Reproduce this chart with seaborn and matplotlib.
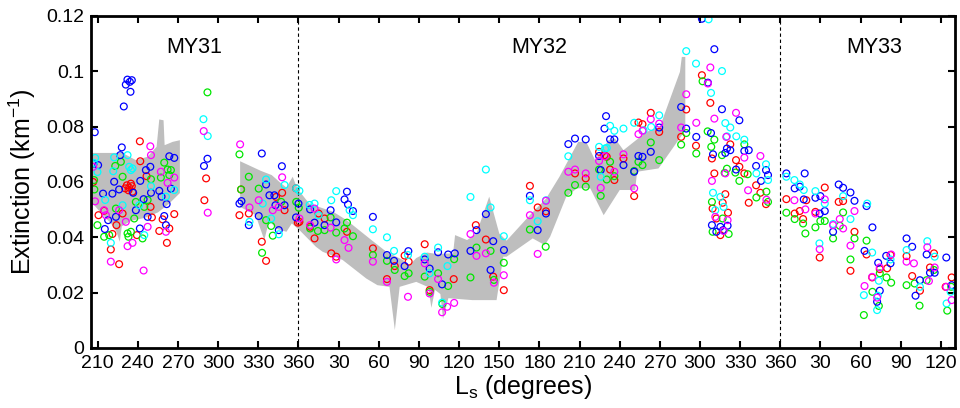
import matplotlib
matplotlib.use("Agg")
import matplotlib.pyplot as plt
import numpy as np
import pandas as pd
import seaborn as sns

# x values are cumulative Ls: MY31 as is, MY32 = Ls + 360, MY33 = Ls + 720
red_pts = [
    (206.6, 0.060), (210.6, 0.048), (214.8, 0.0496), (219.8, 0.0356), (221, 0.0412), (224, 0.0444),
    (226, 0.0303), (228.6, 0.0486), (230.5, 0.0577), (231.8, 0.0588), (233, 0.057), (233.5, 0.058),
    (234.8, 0.0594), (235.5, 0.0585), (236, 0.0565), (239.3, 0.0408), (241.5, 0.0747), (241.8, 0.0675),
    (246.5, 0.0621), (249.5, 0.051), (250.5, 0.0472), (256, 0.0423), (258.5, 0.0465), (261.7, 0.038),
    (263.5, 0.0432), (267.2, 0.0484), (289.7, 0.0534), (291, 0.0613),
    (315.9, 0.048), (317.1, 0.0573), (322.9, 0.0486), (332.6, 0.0384), (335.8, 0.0315), (343.3, 0.0546),
    (347.8, 0.0561), (349.6, 0.0498), (358.2, 0.0577), (359.5, 0.0453),
    (360.7, 0.0456), (368.7, 0.0438), (372, 0.0396), (375, 0.0486), (379.5, 0.0468), (384.5, 0.0342),
    (388.2, 0.033), (396.2, 0.042), (415.6, 0.036), (426.1, 0.0249), (431.9, 0.0296), (439.3, 0.0334),
    (442.3, 0.0312), (454.3, 0.0375), (458, 0.0209), (476, 0.0249), (492.5, 0.0444), (500, 0.0392),
    (505.5, 0.0258), (513.4, 0.0209), (532.9, 0.0586), (538.7, 0.0508), (544.9, 0.0494), (566.6, 0.0631),
    (574.6, 0.0613), (584.6, 0.0709), (588.6, 0.0697), (590.3, 0.0691), (592.8, 0.0645), (596, 0.0607),
    (602.8, 0.0685), (610.8, 0.0549), (614, 0.0815), (617, 0.0809), (623.2, 0.085), (629.5, 0.0781),
    (645.9, 0.0763), (649.7, 0.0862), (657, 0.0731), (661.4, 0.0986), (667.7, 0.0886), (668.9, 0.0685),
    (669.4, 0.0504), (670.7, 0.0631), (672.2, 0.0468), (675.2, 0.0408), (676.9, 0.0525), (678.9, 0.0556),
    (680.9, 0.0489), (682.6, 0.0736), (686.9, 0.0679), (689.4, 0.0655), (693.1, 0.0631), (696.4, 0.0525),
    (701.9, 0.0588), (705.1, 0.0561), (709.3, 0.052),
    (724.5, 0.0538), (730.7, 0.0486), (734.5, 0.0495), (737, 0.0466), (739.4, 0.0534), (746.2, 0.0492),
    (749.4, 0.0327), (753.2, 0.058), (763.6, 0.0528), (766.9, 0.0531), (772.4, 0.0279), (775.4, 0.042),
    (784.4, 0.0338), (788.6, 0.0255), (794.3, 0.0285), (799.8, 0.0288), (802.3, 0.0336), (814.3, 0.0332),
    (818.5, 0.026), (824.3, 0.0207), (831.8, 0.0291), (834.8, 0.0342), (843.5, 0.0221), (848, 0.0255),
]

green_pts = [
    (207.3, 0.0607), (207.5, 0.0573), (209.8, 0.0444), (214.8, 0.0402), (218.6, 0.0408), (223.1, 0.0658),
    (223.6, 0.0504), (227.3, 0.0673), (228.6, 0.0619), (232.3, 0.0414), (233, 0.0402), (234.8, 0.042),
    (237.3, 0.0468), (238.5, 0.0528), (243.5, 0.0396), (244.8, 0.051), (247.3, 0.0535), (249.8, 0.061),
    (257.2, 0.0616), (259.7, 0.067), (262.2, 0.0645), (263.5, 0.0625), (264.7, 0.0643), (292, 0.0924),
    (315.9, 0.07), (317.1, 0.0573), (322.9, 0.0619), (330.3, 0.0576), (332.8, 0.0344), (335.8, 0.0462),
    (339.6, 0.0441), (340.8, 0.0406), (347.1, 0.0528), (358.3, 0.0528),
    (360.2, 0.0507), (368.7, 0.0432), (374.5, 0.0423), (379.5, 0.0426), (384, 0.0472), (388.2, 0.0417),
    (394.4, 0.0432), (396.2, 0.0453), (400.7, 0.0404), (415.6, 0.0336), (426.1, 0.0315), (431.9, 0.0282),
    (439.3, 0.026), (442.3, 0.027), (454.3, 0.0258), (458, 0.0203), (464.3, 0.027), (467.5, 0.0159),
    (471.8, 0.0224), (476.3, 0.0321), (488.5, 0.0255), (493, 0.0363), (503.5, 0.0351), (506, 0.0246),
    (513.4, 0.0308), (532.9, 0.0428), (544.7, 0.0366), (561.6, 0.0561), (566.6, 0.0589), (574.6, 0.0583),
    (584.6, 0.0645), (585.8, 0.055), (590.3, 0.0609), (592.8, 0.0673), (596, 0.0621), (610.8, 0.064),
    (614, 0.0673), (617, 0.0661), (623.2, 0.0743), (629.5, 0.0679), (645.9, 0.0735), (649.7, 0.0777),
    (657.2, 0.0703), (661.9, 0.0964), (665.7, 0.0783), (668.4, 0.0727), (668.9, 0.0528), (669.4, 0.042),
    (670.7, 0.0753), (676.4, 0.0697), (676.9, 0.0468), (678.4, 0.0633), (680.1, 0.0648), (681.4, 0.0412),
    (686.4, 0.0634), (689.4, 0.0604), (693.1, 0.0736), (695.6, 0.0628), (702.1, 0.0544), (709.6, 0.0565),
    (710.8, 0.0528),
    (724.5, 0.0489), (730.7, 0.0466), (737, 0.045), (738.7, 0.0414), (746.2, 0.0436), (749.9, 0.0459),
    (753.2, 0.0459), (759.4, 0.0396), (764.4, 0.0442), (766.9, 0.049), (772.4, 0.032), (775.4, 0.0396),
    (782.4, 0.0119), (784.4, 0.0388), (788.8, 0.0203), (793.6, 0.0152), (794.3, 0.027), (799.3, 0.0255),
    (802.8, 0.0236), (814.3, 0.0227), (820.3, 0.0233), (824, 0.0153), (829.3, 0.0245), (834.8, 0.0282),
    (844.7, 0.0135), (847.7, 0.0221),
]

blue_pts = [
    (207.8, 0.078), (207, 0.0667), (210.3, 0.0661), (214, 0.0558), (215.3, 0.043), (217.8, 0.0462),
    (221, 0.0558), (222.3, 0.0601), (223.6, 0.0474), (226, 0.0573), (226.8, 0.0697), (228, 0.0725),
    (229.5, 0.0873), (231, 0.0952), (232.2, 0.097), (234, 0.0962), (234.5, 0.0926), (235.5, 0.0968),
    (236.5, 0.0561), (238.5, 0.0498), (241.5, 0.0432), (241.8, 0.0604), (244.3, 0.0538), (246, 0.0643),
    (247.3, 0.0474), (249.3, 0.0655), (249.8, 0.0561), (256, 0.0568), (257.7, 0.0547), (259.7, 0.0477),
    (261, 0.0444), (261.5, 0.052), (263.5, 0.0693), (264.7, 0.0576), (267.2, 0.0687),
    (289.4, 0.0658), (292, 0.0684),
    (315.9, 0.0522), (317.4, 0.0531), (322.9, 0.0444), (330.3, 0.0477), (332.6, 0.0703), (335.8, 0.0591),
    (338.3, 0.0552), (342, 0.0552), (342.8, 0.0516), (345.3, 0.0426), (347.6, 0.0657), (349.6, 0.0516),
    (358.2, 0.0472), (360, 0.0522),
    (368.7, 0.0501), (372, 0.0453), (379.5, 0.0444), (384, 0.0498), (388.2, 0.0454), (394.4, 0.0537),
    (396.2, 0.0565), (397, 0.0519), (400.7, 0.0495), (415.6, 0.0474), (426.1, 0.0336), (431.4, 0.0315),
    (439.3, 0.0296), (442.1, 0.035), (454.3, 0.032), (458, 0.0287), (464.3, 0.0346), (467.3, 0.023),
    (471.8, 0.0338), (476.8, 0.0342), (488.5, 0.0351), (493, 0.0426), (500, 0.0484), (503.5, 0.0282),
    (505.5, 0.0386), (513.5, 0.0354), (532.9, 0.055), (538.7, 0.0426), (544.9, 0.0486), (561.6, 0.0737),
    (566.6, 0.0757), (574.6, 0.0754), (584.6, 0.0694), (585.8, 0.0643), (588.6, 0.0793), (589.8, 0.0838),
    (592.8, 0.0754), (596, 0.0754), (602.8, 0.0661), (610.8, 0.0637), (614, 0.0694), (617, 0.0691),
    (623.2, 0.0709), (629.5, 0.0797), (645.9, 0.0871), (649.7, 0.0793), (657.2, 0.0763), (661.4, 0.119),
    (665.9, 0.0959), (668.2, 0.0777), (668.9, 0.0444), (669.7, 0.07), (670.7, 0.108), (672.2, 0.042),
    (675.2, 0.0438), (676.4, 0.0863), (677.2, 0.0426), (678.9, 0.0705), (680.1, 0.0721), (680.6, 0.0442),
    (682.6, 0.0715), (686.9, 0.0645), (689.4, 0.0823), (693.1, 0.0712), (696.4, 0.0715), (701.9, 0.0658),
    (705.6, 0.0604), (709.3, 0.0643), (710.8, 0.0625),
    (724.5, 0.0631), (730.7, 0.0577), (734.5, 0.0583), (737.5, 0.0537), (738.2, 0.0631), (746.2, 0.0543),
    (749.4, 0.0486), (749.9, 0.0549), (753.2, 0.0495), (759.4, 0.042), (763.6, 0.0591), (766.9, 0.0579),
    (772.4, 0.0562), (775.4, 0.0532), (782.9, 0.0351), (784.4, 0.0513), (788.8, 0.0436), (792.3, 0.0167),
    (793.1, 0.0308), (794.3, 0.0207), (799.1, 0.0333), (802.3, 0.0306), (814.3, 0.0396), (818.5, 0.0366),
    (821, 0.0189), (824.3, 0.0245), (829.3, 0.0338), (831.8, 0.0272), (835.3, 0.0272), (844, 0.0327),
    (848, 0.0227),
]

cyan_pts = [
    (207.1, 0.0669), (208.1, 0.0687), (209.8, 0.0636), (215.6, 0.0535), (219.8, 0.038), (221.6, 0.0639),
    (222.3, 0.0689), (228.6, 0.0516), (232.3, 0.0697), (233.5, 0.0655), (234.8, 0.0643), (236, 0.0649),
    (241, 0.0516), (244.8, 0.0408), (249.8, 0.0585), (261, 0.0547), (267.2, 0.0571),
    (289, 0.0827), (292.2, 0.0766),
    (323.4, 0.0456), (333.3, 0.0522), (335.8, 0.0609), (339.6, 0.0468), (345.3, 0.0411), (349.6, 0.0589),
    (358.3, 0.0577),
    (360.7, 0.0568), (368.3, 0.0517), (372, 0.0522), (375, 0.048), (384.5, 0.0534), (388.2, 0.0567),
    (398.2, 0.0498), (400.7, 0.048), (415.6, 0.0429), (426.1, 0.04), (431.4, 0.0351), (441.8, 0.0336),
    (454.3, 0.033), (458, 0.027), (464.3, 0.0363), (467.3, 0.0164), (471.3, 0.0296), (488.5, 0.0546),
    (500, 0.0645), (503.5, 0.0508), (513.4, 0.0404), (532.9, 0.0534), (538.7, 0.0458), (544.9, 0.0534),
    (561.6, 0.0693), (584.6, 0.0727), (585.8, 0.0619), (589, 0.0721), (590.3, 0.0723), (592.8, 0.0803),
    (596, 0.0785), (602.8, 0.0793), (610.8, 0.0814), (617.8, 0.0787), (623.5, 0.0799), (629.5, 0.0841),
    (649.7, 0.1073), (657, 0.1028), (666.4, 0.1188), (668.2, 0.0922), (669.7, 0.0561), (671.4, 0.0498),
    (675.2, 0.0546), (676.4, 0.1001), (677.6, 0.051), (678.9, 0.0813), (680.1, 0.0765), (682.6, 0.0797),
    (687.1, 0.0765), (693.1, 0.0753), (702.1, 0.0631), (709.3, 0.0664), (710.8, 0.0607),
    (724.5, 0.0619), (730.5, 0.0607), (734.5, 0.0591), (737.5, 0.0571), (746.2, 0.0567), (749.2, 0.0378),
    (753.2, 0.0522), (759.4, 0.0448), (766.9, 0.0549), (772.4, 0.0466), (782.4, 0.0191), (784.9, 0.0522),
    (788.6, 0.0345), (792.3, 0.0137), (792.8, 0.0189), (793.6, 0.0243), (802.3, 0.032), (814.3, 0.0354),
    (824.3, 0.0221), (829.8, 0.0386), (835.3, 0.033), (844.2, 0.0161), (847.2, 0.0203),
]

magenta_pts = [
    (206.6, 0.0655), (208, 0.053), (214.8, 0.0498), (216.1, 0.048), (219.8, 0.0312), (226, 0.0498),
    (231, 0.0456), (232.3, 0.0368), (236, 0.038), (244.3, 0.028), (247.3, 0.0438), (249.3, 0.0729),
    (249.8, 0.0697), (257.2, 0.0637), (261, 0.042), (262.2, 0.0597), (267.2, 0.0616),
    (289.2, 0.0784), (292.2, 0.0489),
    (316.4, 0.0736), (323.4, 0.0508), (330.3, 0.0534), (340.8, 0.0498), (345.3, 0.051), (347.8, 0.0617),
    (360.7, 0.0468), (368.7, 0.0444), (372, 0.0504), (384, 0.0435), (388.2, 0.032), (394.4, 0.039),
    (397.4, 0.0362), (415.6, 0.0312), (426.1, 0.0239), (441.8, 0.0185), (454.3, 0.0306), (458, 0.0197),
    (464.3, 0.0249), (467.3, 0.0129), (471.1, 0.0149), (476.3, 0.0163), (488.5, 0.0412), (493, 0.0333),
    (500, 0.0342), (506, 0.0236), (513.4, 0.0263), (532.9, 0.048), (538.7, 0.034), (544.9, 0.0532),
    (561.6, 0.0637), (566.6, 0.0645), (574.6, 0.0631), (584.6, 0.0676), (585.8, 0.0579), (589, 0.0693),
    (596, 0.0637), (602.8, 0.07), (610.8, 0.0577), (614, 0.0773), (617, 0.0785), (623.2, 0.0827),
    (629.5, 0.0811), (645.9, 0.0797), (649.7, 0.0917), (657.2, 0.0814), (665.9, 0.0956), (667.7, 0.1014),
    (668.9, 0.0604), (670.7, 0.0829), (671.4, 0.0474), (677.6, 0.0423), (678.9, 0.0631), (679.6, 0.0763),
    (680.6, 0.0462), (686.9, 0.085), (693.1, 0.0688), (695.9, 0.057), (705.1, 0.0694), (709.6, 0.0536),
    (730.5, 0.0534), (738.7, 0.0501), (746.2, 0.0486), (749.4, 0.0357), (753.2, 0.0537), (759.4, 0.0444),
    (764.4, 0.0466), (766.9, 0.0432), (772.4, 0.037), (775.4, 0.0495), (782.9, 0.0224), (788.6, 0.0257),
    (792.3, 0.0182), (794.3, 0.0291), (802.8, 0.0338), (814.3, 0.0312), (819.8, 0.0306), (829.8, 0.0364),
    (831, 0.0242), (835.3, 0.0291), (844, 0.0221), (848, 0.0173),
]

# grey envelope, two separate pieces
band1_upper = [(205, 0.0705), (228.5, 0.0705), (238.5, 0.0679), (247.2, 0.0691), (254, 0.0727),
               (256, 0.0826), (259.2, 0.0823), (260, 0.0733), (266, 0.0745), (271.4, 0.0751)]
band1_lower = [(205, 0.053), (212, 0.049), (220, 0.045), (224, 0.042), (226.5, 0.0384), (228, 0.044),
               (235, 0.046), (245, 0.047), (255, 0.049), (263, 0.052), (271.4, 0.056)]
band2_upper = [(316.4, 0.0675), (332, 0.064), (340, 0.0625), (347, 0.0595), (351, 0.058), (355.7, 0.0619),
               (358, 0.059), (360, 0.0571), (368, 0.0522), (386, 0.0492), (396, 0.0462), (413, 0.0396),
               (425.6, 0.0348), (438, 0.0318), (443, 0.030), (448, 0.0325), (456, 0.0345), (463, 0.034),
               (475.5, 0.0342), (477, 0.0408), (486, 0.039), (493, 0.0414), (502.5, 0.0547), (510, 0.0414),
               (515.5, 0.0388), (534, 0.0486), (545, 0.054), (555, 0.0619), (569, 0.0745), (575, 0.0745),
               (581.6, 0.0679), (591.6, 0.0751), (596.5, 0.0757), (602.8, 0.0715), (620, 0.0781),
               (630, 0.0799), (645, 0.0998), (646.4, 0.1052), (649, 0.1052)]
band2_lower = [(316.4, 0.051), (328, 0.048), (334.5, 0.039), (338, 0.046), (344, 0.043), (351, 0.042),
               (355, 0.045), (360.75, 0.0426), (373, 0.0366), (378, 0.0348), (393, 0.0318), (410.7, 0.0251),
               (419, 0.0227), (428, 0.0221), (432, 0.0065), (435.6, 0.0221), (448, 0.0239), (457, 0.022),
               (459.3, 0.0145), (462, 0.021), (466, 0.0195), (468, 0.0105), (472, 0.018), (490, 0.0173),
               (508, 0.0173), (513, 0.033), (515.5, 0.033), (535, 0.0396), (544, 0.0372), (548, 0.0402),
               (560, 0.0546), (568, 0.0577), (578, 0.0577), (588, 0.048), (600, 0.0571), (611.5, 0.0571),
               (613, 0.0637), (629, 0.0649), (649, 0.0787)]

year_bounds = [360, 720]
year_labels = ["MY31", "MY32", "MY33"]
year_label_x = [282, 540, 790]
xtick_vals = list(range(210, 841, 30))
ytick_vals = [0, 0.02, 0.04, 0.06, 0.08, 0.1, 0.12]
ytick_labels = ["0", "0.02", "0.04", "0.06", "0.08", "0.1", "0.12"]

sns.set_style("ticks", {"axes.edgecolor": "black", "text.color": "black",
                        "axes.labelcolor": "black", "xtick.color": "black", "ytick.color": "black"})
plt.rcParams["font.family"] = ["Liberation Sans", "DejaVu Sans"]
plt.rcParams["mathtext.fontset"] = "custom"
plt.rcParams["mathtext.rm"] = "Liberation Sans"
plt.rcParams["mathtext.it"] = "Liberation Sans:italic"

fig = plt.figure(figsize=(9.6, 4.08), dpi=100)
ax = fig.add_axes([0.0948, 0.1471, 0.9, 0.8137])

for up, lo in [(band1_upper, band1_lower), (band2_upper, band2_lower)]:
    poly = up + lo[::-1]
    ax.fill([p[0] for p in poly], [p[1] for p in poly], color="#bebebe", lw=0, zorder=1)

for xb in year_bounds:
    ax.axvline(xb, color="k", lw=0.8, ls=(0, (3, 2.5)), zorder=1.5)

groups = [("red", red_pts, "#ff0000"), ("green", green_pts, "#00e600"), ("blue", blue_pts, "#0000ff"),
          ("cyan", cyan_pts, "#00ffff"), ("magenta", magenta_pts, "#ff00ff")]
for name, pts, col in groups:
    df = pd.DataFrame(pts, columns=["ls", "ext"])
    sns.scatterplot(data=df, x="ls", y="ext", ax=ax, marker="o", s=24,
                    facecolors="none", edgecolor=col, linewidth=0.9, zorder=2)

for lab, xl in zip(year_labels, year_label_x):
    ax.text(xl, 0.1087, lab, ha="center", va="center", fontsize=15.5, color="black")

ax.set_xlim(205, 850.5)
ax.set_ylim(0, 0.12)
ax.set_xticks(xtick_vals)
ax.set_xticklabels([str(v % 360 if v % 360 else 360) for v in xtick_vals])
ax.set_yticks(ytick_vals)
ax.set_yticklabels(ytick_labels)
ax.tick_params(direction="in", top=True, right=True, length=5, width=1.5,
               labelsize=14, pad=5, colors="black")
for sp in ax.spines.values():
    sp.set_linewidth(2.0)
    sp.set_color("black")
ax.set_xlabel(r"L$_\mathregular{s}$ (degrees)", fontsize=18, labelpad=1, color="black")
ax.set_ylabel(r"Extinction (km$^\mathregular{-1}$)", fontsize=18, labelpad=6, color="black")

fig.savefig("out.png", dpi=100)
